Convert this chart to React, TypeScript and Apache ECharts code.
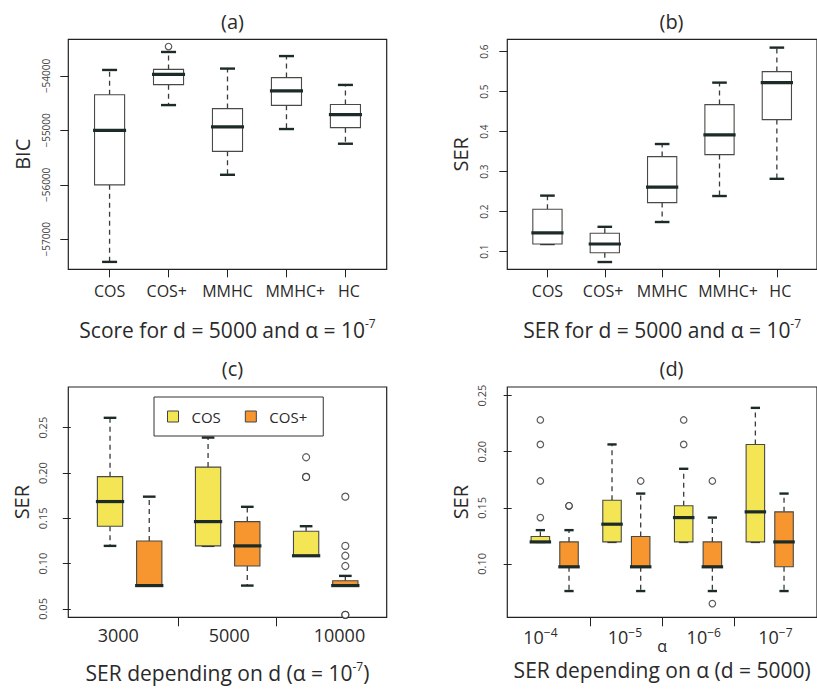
import React, { useEffect, useRef } from "react";
import * as echarts from "echarts";

// ---- panel (a): BIC per method, [low, q1, median, q3, high]
const methods = ["COS", "COS+", "MMHC", "MMHC+", "HC"];
const bicStats = [
  [-57415, -56000, -55000, -54345, -53890],
  [-54535, -54160, -53970, -53880, -53560],
  [-55815, -55385, -54935, -54600, -53865],
  [-54975, -54540, -54275, -54030, -53635],
  [-55245, -54950, -54710, -54525, -54165],
];
const bicOutliers = [[1, -53460]]; // [method index (0-based), value]
const bicTicks = [-57000, -56000, -55000, -54000];

// ---- panel (b): SER per method
const serStats = [
  [0.119, 0.119, 0.147, 0.206, 0.240],
  [0.074, 0.097, 0.119, 0.146, 0.162],
  [0.174, 0.2225, 0.261, 0.3375, 0.369],
  [0.239, 0.3425, 0.392, 0.4675, 0.5225],
  [0.282, 0.430, 0.5225, 0.550, 0.610],
];
const serTicks = [0.1, 0.2, 0.3, 0.4, 0.5, 0.6];

// ---- panel (c): SER depending on d
const dLabels = ["3000", "5000", "10000"];
const cosByD = [
  [0.1196, 0.1413, 0.1685, 0.1960, 0.2609],
  [0.1196, 0.1196, 0.1464, 0.2065, 0.2391],
  [0.1087, 0.1087, 0.1087, 0.1357, 0.1413],
];
const cosPlusByD = [
  [0.0758, 0.0758, 0.0758, 0.1250, 0.1739],
  [0.0758, 0.0974, 0.1196, 0.1464, 0.1627],
  [0.0758, 0.0758, 0.0758, 0.0812, 0.0865],
];
const cosOutByD = [[], [], [0.2174, 0.1957, 0.1957]];
const cosPlusOutByD = [[], [], [0.1739, 0.1196, 0.1087, 0.0974, 0.0435, 0.0435]];
const serTicksC = [0.05, 0.1, 0.15, 0.2, 0.25];

// ---- panel (d): SER depending on alpha
const alphaExponents = ["4", "5", "6", "7"];
const cosByAlpha = [
  [0.1196, 0.1196, 0.1196, 0.1244, 0.1301],
  [0.1196, 0.1196, 0.1354, 0.1568, 0.2065],
  [0.1196, 0.1196, 0.1413, 0.1518, 0.1848],
  [0.1196, 0.1196, 0.1464, 0.2065, 0.2391],
];
const cosPlusByAlpha = [
  [0.0758, 0.0974, 0.0974, 0.1196, 0.1301],
  [0.0758, 0.0974, 0.0974, 0.1244, 0.1627],
  [0.0758, 0.0974, 0.0974, 0.1196, 0.1413],
  [0.0758, 0.0974, 0.1196, 0.1464, 0.1627],
];
const cosOutByAlpha = [[0.2283, 0.2065, 0.1739, 0.1413], [], [0.2283, 0.2065], []];
const cosPlusOutByAlpha = [[0.1518, 0.1518], [0.1739], [0.1739, 0.0646], []];
const serTicksD = [0.1, 0.15, 0.2, 0.25];

const FONT = "'Open Sans', 'Noto Sans', sans-serif";
const YELLOW = "#F3E553";
const ORANGE = "#F7952F";
const INK = "#1d2b28";
const TEXT = "#2a2a2a";

// R-style box: white/filled box, thick median, dashed whiskers, solid caps
function boxRenderer(boxW: number, fill: string) {
  return (_params: any, api: any) => {
    const x = api.value(0);
    const low = api.value(1);
    const q1 = api.value(2);
    const med = api.value(3);
    const q3 = api.value(4);
    const high = api.value(5);
    const pLow = api.coord([x, low]);
    const pQ1 = api.coord([x, q1]);
    const pMed = api.coord([x, med]);
    const pQ3 = api.coord([x, q3]);
    const pHigh = api.coord([x, high]);
    const w = api.size([boxW, 0])[0];
    const cx = pMed[0];
    const half = w / 2;
    const capHalf = w / 4;
    const dash = { stroke: "#3a3a3a", lineWidth: 1.3, lineDash: [5, 4] };
    const cap = { stroke: INK, lineWidth: 2.4 };
    const children: any[] = [];
    if (high > q3) {
      children.push({ type: "line", shape: { x1: cx, y1: pQ3[1], x2: cx, y2: pHigh[1] }, style: dash });
    }
    if (low < q1) {
      children.push({ type: "line", shape: { x1: cx, y1: pQ1[1], x2: cx, y2: pLow[1] }, style: dash });
    }
    children.push({ type: "line", shape: { x1: cx - capHalf, y1: pHigh[1], x2: cx + capHalf, y2: pHigh[1] }, style: cap });
    children.push({ type: "line", shape: { x1: cx - capHalf, y1: pLow[1], x2: cx + capHalf, y2: pLow[1] }, style: cap });
    children.push({
      type: "rect",
      shape: { x: cx - half, y: pQ3[1], width: w, height: pQ1[1] - pQ3[1] },
      style: { fill, stroke: "#4a4a44", lineWidth: 1.1 },
    });
    children.push({
      type: "line",
      shape: { x1: cx - half - 1.5, y1: pMed[1], x2: cx + half + 1.5, y2: pMed[1] },
      style: { stroke: INK, lineWidth: 3.2 },
    });
    return { type: "group", children };
  };
}

const withPos = (stats: number[][], pos: (i: number) => number) =>
  stats.map((s, i) => [pos(i), ...s]);

const outlierPoints = (groups: number[][], pos: (i: number) => number) =>
  groups.flatMap((vals, i) => vals.map((v) => [pos(i), v]));

const outlierStyle = {
  symbol: "circle",
  itemStyle: { color: "#ffffff", borderColor: "#333", borderWidth: 1.2 },
};

const supRich = {
  t: { fontSize: 21, fontFamily: FONT, color: TEXT, lineHeight: 26 },
  s: { fontSize: 12, fontFamily: FONT, color: TEXT, lineHeight: 12, verticalAlign: "top" },
};

function yAxisBase(gridIndex: number, min: number, max: number, ticks: number[], fmt: (v: number) => string, fontSize: number, margin: number, nameGap: number) {
  return {
    type: "value",
    gridIndex,
    min,
    max,
    name: gridIndex === 0 ? "BIC" : "SER",
    nameLocation: "middle",
    nameRotate: 90,
    nameGap,
    nameMoveOverlap: false,
    nameTextStyle: { fontSize: 20, fontFamily: FONT, color: TEXT },
    axisLine: { show: false },
    splitLine: { show: false },
    axisTick: { show: true, length: 8, customValues: ticks, lineStyle: { color: "#222", width: 1 } },
    axisLabel: {
      customValues: ticks,
      rotate: 90,
      margin,
      fontSize,
      fontFamily: FONT,
      color: "#444",
      formatter: fmt,
    },
  };
}

export default function App() {
  const ref = useRef<HTMLDivElement>(null);

  useEffect(() => {
    if (!ref.current) return;
    const chart = echarts.init(ref.current, undefined, { renderer: "svg" });

    const methodPos = (i: number) => i + 1;
    const groupPos = (i: number) => 1 + i * 2.5;
    const groupPosPlus = (i: number) => 2 + i * 2.5;

    // label anchors along the value x axes
    const methodLabelPos = [1, 1.97, 3, 4.15, 5.06];
    const dLabelPos = [1.21, 4.04, 6.85];
    const alphaLabelPos = [1.0, 3.95, 6.7, 9.2];

    const gridBorder = { show: true, borderColor: "#222", borderWidth: 1.2, backgroundColor: "transparent" };

    const methodAxisLabel = {
      customValues: methodLabelPos,
      margin: 14,
      fontSize: 16,
      fontFamily: FONT,
      color: TEXT,
      formatter: (v: number) => methods[methodLabelPos.findIndex((p) => Math.abs(p - v) < 1e-6)] ?? "",
    };

    const option: any = {
      animation: false,
      backgroundColor: "#ffffff",
      textStyle: { fontFamily: FONT },
      title: [
        { text: "(a)", left: 227.5, top: 6, textAlign: "center" },
        { text: "(b)", left: 666.5, top: 6, textAlign: "center" },
        { text: "(c)", left: 227.5, top: 353, textAlign: "center" },
        { text: "(d)", left: 666.5, top: 353, textAlign: "center" },
      ].map((t) => ({ ...t, textStyle: { fontSize: 20, fontWeight: "normal", fontFamily: FONT, color: TEXT } })),
      legend: {
        left: 154,
        top: 397,
        orient: "horizontal",
        padding: [12, 16, 12, 13],
        itemGap: 24,
        itemWidth: 11,
        itemHeight: 11,
        borderColor: "#333",
        borderWidth: 1,
        borderRadius: 0,
        backgroundColor: "#ffffff",
        selectedMode: false,
        icon: "rect",
        textStyle: { fontSize: 15, fontFamily: FONT, color: TEXT, padding: [0, 0, 0, 8] },
        data: [
          { name: "COS", itemStyle: { color: YELLOW, borderColor: "#444", borderWidth: 1 } },
          { name: "COS+", itemStyle: { color: ORANGE, borderColor: "#444", borderWidth: 1 } },
        ],
      },
      grid: [
        { left: 68.3, top: 39.3, width: 318.4, height: 230, ...gridBorder },
        { left: 507.3, top: 39.3, width: 318.4, height: 230, ...gridBorder },
        { left: 68.3, top: 387, width: 318.4, height: 230.3, ...gridBorder },
        { left: 507.3, top: 387, width: 318.4, height: 230.3, ...gridBorder },
      ],
      xAxis: [
        {
          type: "value",
          gridIndex: 0,
          min: 0.3,
          max: 5.7,
          splitLine: { show: false },
          axisLine: { show: false },
          axisTick: { show: true, length: 8, customValues: [1, 2, 3, 4, 5], lineStyle: { color: "#222" } },
          axisLabel: methodAxisLabel,
          name: "{t|Score for d = 5000 and α = 10}{s|-7}",
          nameLocation: "middle",
          nameGap: 48,
          nameMoveOverlap: false,
          nameTextStyle: { rich: supRich },
        },
        {
          type: "value",
          gridIndex: 1,
          min: 0.3,
          max: 5.7,
          splitLine: { show: false },
          axisLine: { show: false },
          axisTick: { show: true, length: 8, customValues: [1, 2, 3, 4, 5], lineStyle: { color: "#222" } },
          axisLabel: methodAxisLabel,
          name: "{t|SER for d = 5000 and α = 10}{s|-7}",
          nameLocation: "middle",
          nameGap: 48,
          nameMoveOverlap: false,
          nameTextStyle: { rich: supRich },
        },
        {
          type: "value",
          gridIndex: 2,
          min: -0.064,
          max: 8.055,
          splitLine: { show: false },
          axisLine: { show: false },
          axisTick: { show: true, length: 9, customValues: [2.75, 5.25], lineStyle: { color: "#222" } },
          axisLabel: {
            customValues: dLabelPos,
            margin: 9,
            fontSize: 18,
            fontFamily: FONT,
            color: TEXT,
            formatter: (v: number) => dLabels[dLabelPos.findIndex((p) => Math.abs(p - v) < 1e-6)] ?? "",
          },
          name: "{t|SER depending on d (α = 10}{s|-7}{t|)}",
          nameLocation: "middle",
          nameGap: 43,
          nameMoveOverlap: false,
          nameTextStyle: { rich: supRich },
        },
        {
          type: "value",
          gridIndex: 3,
          min: -0.153,
          max: 10.65,
          splitLine: { show: false },
          axisLine: { show: false },
          axisTick: { show: true, length: 9, customValues: [2.75, 5.25, 7.75], lineStyle: { color: "#222" } },
          axisLabel: {
            customValues: alphaLabelPos,
            margin: 9,
            fontFamily: FONT,
            color: TEXT,
            formatter: (v: number) => {
              const i = alphaLabelPos.findIndex((p) => Math.abs(p - v) < 1e-6);
              return i < 0 ? "" : `{b|10}{e|−${alphaExponents[i]}}`;
            },
            rich: {
              b: { fontSize: 18, fontFamily: FONT, color: TEXT, lineHeight: 22 },
              e: { fontSize: 12, fontFamily: FONT, color: TEXT, lineHeight: 12, verticalAlign: "top" },
            },
          },
          name: "{a|α}\n{t|SER depending on α (d = 5000)}",
          nameLocation: "middle",
          nameGap: 18.5,
          nameMoveOverlap: false,
          nameTextStyle: {
            rich: {
              a: { fontSize: 16, fontFamily: FONT, color: TEXT, lineHeight: 20 },
              t: { fontSize: 21, fontFamily: FONT, color: TEXT, lineHeight: 28 },
            },
          },
        },
      ],
      yAxis: [
        yAxisBase(0, -57551, -53327, bicTicks, (v) => (v < 0 ? "\u2212" : "") + Math.abs(v), 10, 17, 36),
        yAxisBase(1, 0.0558, 0.6308, serTicks, (v) => v.toFixed(1), 10, 18, 37),
        yAxisBase(2, 0.0408, 0.2949, serTicksC, (v) => v.toFixed(2), 11, 20, 37),
        yAxisBase(3, 0.0524, 0.2577, serTicksD, (v) => v.toFixed(2), 11, 20, 37),
      ],
      series: [
        {
          type: "custom",
          name: "BIC",
          xAxisIndex: 0,
          yAxisIndex: 0,
          renderItem: boxRenderer(0.51, "#ffffff"),
          encode: { x: 0, y: [1, 2, 3, 4, 5] },
          data: withPos(bicStats, methodPos),
        },
        {
          type: "scatter",
          name: "BIC",
          xAxisIndex: 0,
          yAxisIndex: 0,
          symbolSize: 6.5,
          ...outlierStyle,
          data: bicOutliers.map(([i, v]) => [methodPos(i), v]),
        },
        {
          type: "custom",
          name: "SER",
          xAxisIndex: 1,
          yAxisIndex: 1,
          renderItem: boxRenderer(0.51, "#ffffff"),
          encode: { x: 0, y: [1, 2, 3, 4, 5] },
          data: withPos(serStats, methodPos),
        },
        {
          type: "custom",
          name: "COS",
          xAxisIndex: 2,
          yAxisIndex: 2,
          itemStyle: { color: YELLOW },
          renderItem: boxRenderer(0.645, YELLOW),
          encode: { x: 0, y: [1, 2, 3, 4, 5] },
          data: withPos(cosByD, groupPos),
        },
        {
          type: "custom",
          name: "COS+",
          xAxisIndex: 2,
          yAxisIndex: 2,
          itemStyle: { color: ORANGE },
          renderItem: boxRenderer(0.645, ORANGE),
          encode: { x: 0, y: [1, 2, 3, 4, 5] },
          data: withPos(cosPlusByD, groupPosPlus),
        },
        {
          type: "custom",
          name: "COS",
          xAxisIndex: 3,
          yAxisIndex: 3,
          itemStyle: { color: YELLOW },
          renderItem: boxRenderer(0.645, YELLOW),
          encode: { x: 0, y: [1, 2, 3, 4, 5] },
          data: withPos(cosByAlpha, groupPos),
        },
        {
          type: "custom",
          name: "COS+",
          xAxisIndex: 3,
          yAxisIndex: 3,
          itemStyle: { color: ORANGE },
          renderItem: boxRenderer(0.645, ORANGE),
          encode: { x: 0, y: [1, 2, 3, 4, 5] },
          data: withPos(cosPlusByAlpha, groupPosPlus),
        },
        {
          type: "scatter",
          name: "COS",
          xAxisIndex: 2,
          yAxisIndex: 2,
          symbolSize: 7,
          ...outlierStyle,
          data: outlierPoints(cosOutByD, groupPos),
        },
        {
          type: "scatter",
          name: "COS+",
          xAxisIndex: 2,
          yAxisIndex: 2,
          symbolSize: 7,
          ...outlierStyle,
          data: outlierPoints(cosPlusOutByD, groupPosPlus),
        },
        {
          type: "scatter",
          name: "COS",
          xAxisIndex: 3,
          yAxisIndex: 3,
          symbolSize: 6.5,
          ...outlierStyle,
          data: outlierPoints(cosOutByAlpha, groupPos),
        },
        {
          type: "scatter",
          name: "COS+",
          xAxisIndex: 3,
          yAxisIndex: 3,
          symbolSize: 6.5,
          ...outlierStyle,
          data: outlierPoints(cosPlusOutByAlpha, groupPosPlus),
        },
      ],
    };

    chart.setOption(option);
    return () => chart.dispose();
  }, []);

  return (
    <div
      ref={ref}
      style={{ position: "fixed", left: 0, top: 0, width: 817, height: 689, background: "#ffffff" }}
    />
  );
}
